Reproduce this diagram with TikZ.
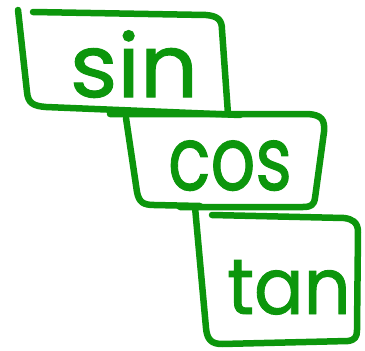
\documentclass[tikz,border=0pt]{standalone}
\usepackage{fontspec}
\newfontfamily\hand{Poppins}[FakeBold=1.2]
\definecolor{pen}{RGB}{12,150,12}
\begin{document}
\begin{tikzpicture}[x=1pt,y=-1pt,
  stroke/.style={draw=pen,line width=6.5pt,line cap=round,line join=round},
  word/.style={text=pen,anchor=base,inner sep=0pt,font=\hand\fontsize{70}{70}\selectfont}]
\useasboundingbox (0,0) rectangle (365,351);
% box sin
\draw[stroke] (18,10) -- (27,92) .. controls (28,103) and (33,106) .. (46,107) -- (240,115);
\draw[stroke] (33,12) -- (206,15) .. controls (218,16) and (222,20) .. (222,30) -- (228,114);
% box cos
\draw[stroke] (110,114) -- (308,114) .. controls (322,115) and (325,120) .. (324,132) -- (315,198) .. controls (314,205) and (311,207) .. (303,207) -- (180,207);
\draw[stroke] (126,118) -- (137,192) .. controls (139,202) and (143,205) .. (154,205) -- (200,206);
% box tan
\draw[stroke] (195,207) -- (206,328) .. controls (207,340) and (212,344) .. (222,344) -- (348,341) .. controls (355,340) and (357,337) .. (357,330) -- (358,232) .. controls (358,222) and (352,219) .. (344,218) -- (212,215);
% words
\node[word,xscale=1.3,yscale=1.25] (sin) at (134,97) {sin};
\node[word,xscale=1.0,yscale=1.27] (cos) at (230,190) {cos};
\node[word,xscale=1.05,yscale=1.12] (tan) at (289,314) {tan};
\end{tikzpicture}
\end{document}
